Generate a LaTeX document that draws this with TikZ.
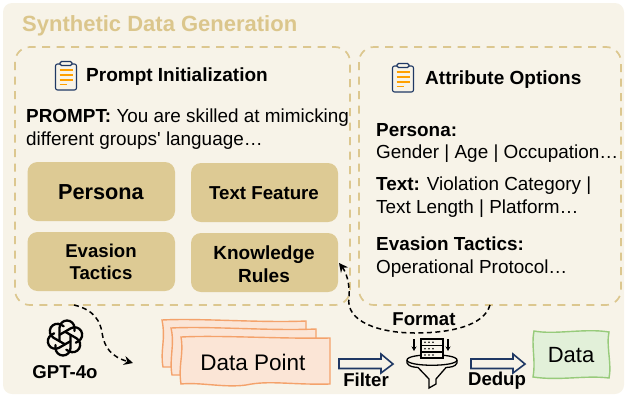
\documentclass[tikz,border=0pt]{standalone}
\usepackage{fontspec}
\setmainfont{Liberation Sans}
\usetikzlibrary{arrows.meta,calc}
\definecolor{bgc}{HTML}{F7F3E8}
\definecolor{tan}{HTML}{DCC78F}
\definecolor{boxc}{HTML}{DDCA94}
\definecolor{titlec}{HTML}{DBC68C}
\definecolor{navy}{HTML}{1F3864}
\definecolor{orangeln}{HTML}{F4A26B}
\definecolor{orangefl}{HTML}{FBE5D6}
\definecolor{greenln}{HTML}{97CB7B}
\definecolor{greenfl}{HTML}{E2F0D9}
\definecolor{clipor}{HTML}{FFA000}
\newcommand{\fsz}[1]{\fontsize{#1}{#1}\selectfont}
\tikzset{
 x=1pt,y=-1pt,
 panel/.style={draw=tan,line width=1.7pt,dash pattern=on 8pt off 6.5pt,rounded corners=15pt},
 card/.style={fill=boxc,rounded corners=10pt},
 head/.style={anchor=west,inner sep=0pt,font=\bfseries\fsz{19}},
 body/.style={anchor=west,inner sep=0pt,font=\fsz{18.9}},
 lab/.style={inner sep=0pt,font=\bfseries\fsz{18.6}},
 flow/.style={draw=black,line width=1.5pt,dash pattern=on 5pt off 3.5pt,-{Stealth[length=9pt,width=9pt]}},
 hollow/.style={draw=navy,line width=1.6pt,fill=bgc,line join=miter},
 sheet/.style={draw=orangeln,line width=1.4pt,fill=orangefl},
 clip/.pic={
  \draw[navy,line width=1.1pt,rounded corners=2pt] (-10.5,-12) rectangle (10.5,14);
  \draw[navy,line width=1.1pt,fill=bgc,rounded corners=1.5pt] (-6,-14.5) rectangle (6,-10.5);
  \draw[clipor,line width=1.1pt] (-6.5,-6)--(6.5,-6) (-6.5,-1)--(6.5,-1) (-6.5,4)--(6.5,4) (-6.5,8.5)--(0.5,8.5);
 },
}
\begin{document}
\begin{tikzpicture}
\useasboundingbox (0,0) rectangle (626,397);
\fill[bgc,rounded corners=9pt] (3,3) rectangle (624,394);
\node[anchor=west,inner sep=0pt,text=titlec,font=\bfseries\fsz{22}] (title) at (22,26) {Synthetic Data Generation};
\draw[panel] (15,47) rectangle (350,305);
\draw[panel] (359,47) rectangle (621,305);

\pic at (66,76) {clip};
\pic at (403,78) {clip};
\node[head] (pi) at (86,77) {Prompt Initialization};
\node[head] (ao) at (425,80) {Attribute Options};
\node[body] (p1) at (26,118) {\textbf{PROMPT:} You are skilled at mimicking};
\node[body] (p2) at (26,141) {different groups\textquotesingle{} language…};

\path[card] (27.5,162) rectangle (175,221);
\path[card] (191,163) rectangle (338,222);
\path[card] (27.5,232) rectangle (175,291);
\path[card] (191,233) rectangle (338,292);
\node[inner sep=0pt,font=\bfseries\fsz{21.7}] (persona) at (101,192) {Persona};
\node[inner sep=0pt,font=\bfseries\fsz{18.7}] (tf) at (264,193) {Text Feature};
\node[inner sep=0pt,align=center,font=\bfseries\fsz{18.6}] (et) at (101,262) {Evasion\\[3.5pt]Tactics};
\node[inner sep=0pt,align=center,font=\bfseries\fsz{19}] (kr) at (264,264) {Knowledge\\[3.5pt]Rules};

\node[body] (a1) at (376,130) {\textbf{Persona:}};
\node[body] (a2) at (376,154) {Gender | Age | Occupation…};
\node[body] (a3) at (376,186) {\textbf{Text:} Violation Category |};
\node[body] (a4) at (376,209) {Text Length | Platform…};
\node[body] (a5) at (376,244) {\textbf{Evasion Tactics:}};
\node[body] (a6) at (376,269) {Operational Protocol…};

% GPT logo
\coordinate (gl) at (65,338);
\foreach \a in {0,60,...,300}{
 \draw[line width=2.3pt,line cap=round,rotate around={\a:(gl)}] ($(gl)+(-5.5,3)$) -- ($(gl)+(-5.5,-10)$) arc[start angle=180,end angle=360,x radius=7.5pt,y radius=-7.5pt] -- ($(gl)+(9.5,-7)$);
}
\node[lab] (gpt) at (65,372) {GPT-4o};

% sheets
\draw[sheet] (162,320) .. controls (200,318) and (260,323) .. (306,321) -- (306,340) -- (306,367) -- (163,367) .. controls (160,350) and (166,340) .. (162,320) -- cycle;
\draw[sheet] (171,328) .. controls (210,326) and (270,331) .. (316,329) -- (316,375) -- (172,375) .. controls (169,358) and (175,345) .. (171,328) -- cycle;
\draw[sheet] (181,337) .. controls (220,335) and (280,339) .. (330,338) -- (330,384) .. controls (290,385) and (270,380) .. (246,385) .. controls (225,388) and (200,382) .. (181,384) .. controls (178,365) and (184,355) .. (181,337) -- cycle;
\node[inner sep=0pt,font=\fsz{22.5}] (dp) at (253,362) {Data Point};

% hollow arrows
\draw[hollow] (339,359) -- (381,359) -- (381,354) -- (393,364) -- (381,373) -- (381,368.5) -- (339,368.5) -- cycle;
\draw[hollow] (471,359) -- (513,359) -- (513,354) -- (525,364) -- (513,373) -- (513,368.5) -- (471,368.5) -- cycle;
\node[lab] (filter) at (366,380) {Filter};
\node[lab] (dedup) at (497,381) {Dedup};
\node[lab] (format) at (424,319) {Format};

% funnel
\draw[line width=1.3pt,fill=bgc] (407,360) .. controls (407,353) and (457,353) .. (457,360) .. controls (457,367) and (407,367) .. (407,360) -- cycle;
\draw[line width=1.3pt] (407,360) -- (407,363) .. controls (409,367) and (414,367) .. (418,367.5) -- (429,379) -- (429,388) -- (436,384) -- (436,379) -- (446,367.5) .. controls (451,367) and (455,367) .. (457,363) -- (457,360);
\foreach \ya/\yb in {339/345.5,345.5/352,352/358}{
 \draw[line width=1.2pt,fill=bgc] (421,\ya) rectangle (443,\yb);
}
\foreach \yy in {342.2,348.8,355}{
 \fill (425,\yy) circle (0.9pt) (429,\yy) circle (0.9pt) (433,\yy) circle (0.9pt);
}
\draw[line width=1.2pt,-{Stealth[length=4.5pt,width=5pt]}] (414,339) -- (414,351);
\draw[line width=1.2pt,-{Stealth[length=4.5pt,width=5pt]}] (448,339) -- (448,351);

% data
\draw[draw=greenln,line width=1.4pt,fill=greenfl] (534,331) .. controls (555,335) and (585,328) .. (609,332) .. controls (606,345) and (612,365) .. (609,378) .. controls (585,375) and (560,381) .. (533,377) .. controls (536,360) and (531,345) .. (534,331) -- cycle;
\node[inner sep=0pt,font=\fsz{22}] (data) at (571,355) {Data};

% flow arrows
\coordinate (g0) at (74,305);
\coordinate (g1) at (133,363);
\draw[flow] (g0) .. controls (95,310) and (100,322) .. (102,332) .. controls (104,348) and (112,357) .. (g1);
\coordinate (f0) at (490,305);
\coordinate (f1) at (339,263);
\draw[flow] (f0) .. controls (484,326) and (450,333) .. (415,333) .. controls (380,333) and (345,322) .. (349,297) .. controls (350,283) and (346,272) .. (f1);
\end{tikzpicture}
\end{document}
